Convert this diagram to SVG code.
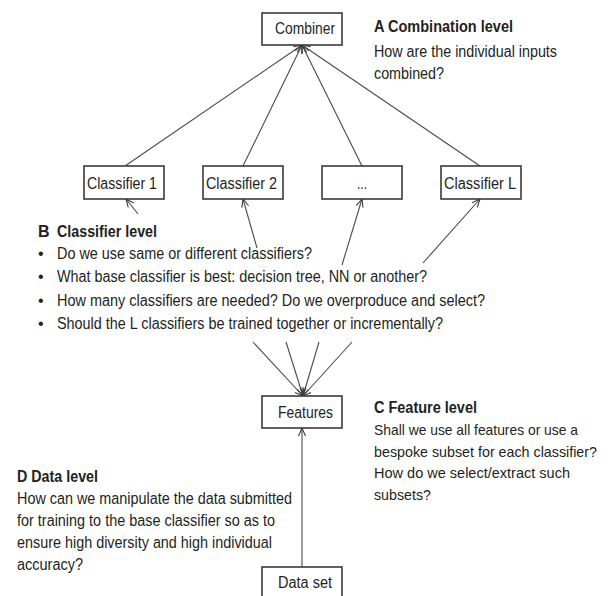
<svg xmlns="http://www.w3.org/2000/svg" width="608" height="596" viewBox="0 0 608 596">
<defs>
<style>
.box{fill:#fff;stroke:#3a3a3a;stroke-width:1.6}
.lbl{font-family:"Liberation Sans",Arial,Helvetica,sans-serif;font-size:16px;fill:#231f20}
.t{font-family:"Liberation Sans",Arial,Helvetica,sans-serif;font-size:16px;fill:#231f20}
.ts{font-family:"Liberation Sans",Arial,Helvetica,sans-serif;font-size:15px;fill:#231f20}
.h{font-family:"Liberation Sans",Arial,Helvetica,sans-serif;font-size:16px;font-weight:bold;fill:#231f20}
.ln{fill:none;stroke:#4a4a4a;stroke-width:1.1}
.ar{marker-end:url(#arr)}
</style>
<marker id="arr" markerUnits="userSpaceOnUse" markerWidth="12" markerHeight="12" viewBox="-10 -6 12 12" refX="0" refY="0" orient="auto">
<path d="M-8,-3.5 L0,0 L-8,3.5" fill="none" stroke="#3a3a3a" stroke-width="1.1"/>
</marker>
</defs>
<rect width="608" height="596" fill="#fff"/>

<g id="connectors">
<line class="ln ar" x1="125" y1="166" x2="302" y2="45"/>
<line class="ln ar" x1="243" y1="166" x2="302" y2="45"/>
<line class="ln ar" x1="362" y1="166" x2="302" y2="45"/>
<line class="ln ar" x1="480" y1="166" x2="302" y2="45"/>
<line class="ln ar" x1="138" y1="214" x2="126" y2="199"/>
<line class="ln ar" x1="257" y1="248" x2="243" y2="199"/>
<line class="ln ar" x1="342" y1="265" x2="362" y2="199"/>
<line class="ln ar" x1="423" y1="263" x2="480" y2="199"/>
<line class="ln ar" x1="253" y1="342" x2="303" y2="396"/>
<line class="ln ar" x1="286" y1="342" x2="303" y2="396"/>
<line class="ln ar" x1="319" y1="342" x2="303" y2="396"/>
<line class="ln ar" x1="352" y1="342" x2="303" y2="396"/>
<line class="ln ar" x1="302" y1="567" x2="302" y2="428"/>
</g>

<g id="combiner">
<rect class="box" x="262" y="13" width="80" height="32"/>
<text class="lbl" x="275" y="34" textLength="60" lengthAdjust="spacingAndGlyphs">Combiner</text>
</g>
<g id="classifier1">
<rect class="box" x="84" y="166" width="80" height="33"/>
<text class="lbl" x="87" y="189" textLength="70" lengthAdjust="spacingAndGlyphs">Classifier 1</text>
</g>
<g id="classifier2">
<rect class="box" x="203" y="166" width="80" height="33"/>
<text class="lbl" x="206" y="189" textLength="71" lengthAdjust="spacingAndGlyphs">Classifier 2</text>
</g>
<g id="classifier-dots">
<rect class="box" x="322" y="166" width="80" height="33"/>
<text class="lbl" x="357" y="189" textLength="10" lengthAdjust="spacingAndGlyphs">...</text>
</g>
<g id="classifierL">
<rect class="box" x="441" y="166" width="80" height="33"/>
<text class="lbl" x="444" y="189" textLength="72" lengthAdjust="spacingAndGlyphs">Classifier L</text>
</g>
<g id="features">
<rect class="box" x="262" y="396" width="80" height="32"/>
<text class="lbl" x="278" y="418" textLength="55" lengthAdjust="spacingAndGlyphs">Features</text>
</g>
<g id="dataset">
<rect class="box" x="262" y="567" width="80" height="40"/>
<text class="lbl" x="278" y="588" textLength="54" lengthAdjust="spacingAndGlyphs">Data set</text>
</g>

<g id="textA">
<text class="h" x="374" y="32" textLength="139" lengthAdjust="spacingAndGlyphs">A Combination level</text>
<text class="t" x="374" y="57" textLength="183" lengthAdjust="spacingAndGlyphs">How are the individual inputs</text>
<text class="t" x="374" y="79" textLength="70" lengthAdjust="spacingAndGlyphs">combined?</text>
</g>
<g id="textB">
<text class="h" x="38" y="237">B</text>
<text class="h" x="57" y="237" textLength="100" lengthAdjust="spacingAndGlyphs">Classifier level</text>
<text class="t" x="38" y="259">•</text>
<text class="t" x="57" y="259" textLength="255" lengthAdjust="spacingAndGlyphs">Do we use same or different classifiers?</text>
<text class="t" x="38" y="282">•</text>
<text class="t" x="57" y="282" textLength="370" lengthAdjust="spacingAndGlyphs">What base classifier is best: decision tree, NN or another?</text>
<text class="t" x="38" y="306">•</text>
<text class="t" x="57" y="306" textLength="428" lengthAdjust="spacingAndGlyphs">How many classifiers are needed? Do we overproduce and select?</text>
<text class="t" x="38" y="329">•</text>
<text class="t" x="57" y="329" textLength="386" lengthAdjust="spacingAndGlyphs">Should the L classifiers be trained together or incrementally?</text>
</g>
<g id="textC">
<text class="h" x="374" y="413" textLength="103" lengthAdjust="spacingAndGlyphs">C Feature level</text>
<text class="ts" x="374" y="435" textLength="204" lengthAdjust="spacingAndGlyphs">Shall we use all features or use a</text>
<text class="ts" x="374" y="457" textLength="223" lengthAdjust="spacingAndGlyphs">bespoke subset for each classifier?</text>
<text class="ts" x="374" y="478" textLength="196" lengthAdjust="spacingAndGlyphs">How do we select/extract such</text>
<text class="ts" x="374" y="500" textLength="57" lengthAdjust="spacingAndGlyphs">subsets?</text>
</g>
<g id="textD">
<text class="h" x="17" y="482" textLength="81" lengthAdjust="spacingAndGlyphs">D Data level</text>
<text class="t" x="17" y="504" textLength="275" lengthAdjust="spacingAndGlyphs">How can we manipulate the data submitted</text>
<text class="t" x="17" y="526" textLength="258" lengthAdjust="spacingAndGlyphs">for training to the base classifier so as to</text>
<text class="t" x="17" y="548" textLength="255" lengthAdjust="spacingAndGlyphs">ensure high diversity and high individual</text>
<text class="t" x="17" y="570" textLength="66" lengthAdjust="spacingAndGlyphs">accuracy?</text>
</g>
</svg>
